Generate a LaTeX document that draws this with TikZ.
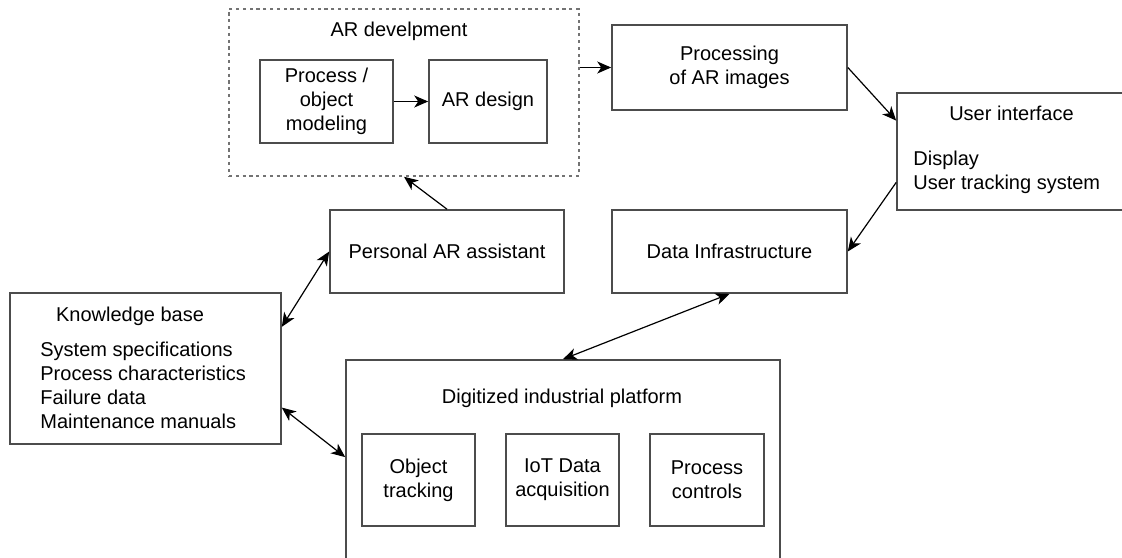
\documentclass[tikz,border=0pt]{standalone}
\usepackage{fontspec}
\setmainfont{Liberation Sans}
\usepackage{tikz}
\usetikzlibrary{arrows.meta}

\begin{document}
\begin{tikzpicture}[x=0.5pt, y=-0.5pt, >={Stealth[length=7pt, width=6pt, inset=2pt]},
    blk/.style={draw=black!70, line width=0.8pt, rectangle, inner sep=0pt, align=center, font=\fontsize{10}{12}\selectfont},
    grp/.style={draw=black!55, line width=0.8pt, dash pattern=on 1.6pt off 1.8pt, rectangle, inner sep=0pt},
    txt/.style={inner sep=0pt, align=left, font=\fontsize{10}{12}\selectfont},
    conn/.style={->, line width=0.6pt},
    biconn/.style={<->, line width=0.6pt}]
\useasboundingbox (0,0) rectangle (1122,557);

\node[grp, minimum width=175pt, minimum height=83.5pt] (dev) at (404,92.5) {};
\node[txt] (devlbl) at (399,31) {AR develpment};
\node[blk, minimum width=66.5pt, minimum height=41.5pt] (procmod) at (326.5,101.5) {Process /\\object\\modeling};
\node[blk, minimum width=59pt, minimum height=41.5pt] (ardesign) at (488,101.5) {AR design};
\node[blk, minimum width=117.5pt, minimum height=42.5pt] (procimg) at (729.5,67.5) {Processing\\of AR images};
\node[blk, minimum width=114.5pt, minimum height=58.5pt] (ui) at (1011.5,151.5) {};
\node[txt] (uititle) at (1011.5,113) {User interface};
\node[txt, anchor=west] (uilist) at (913,172) {Display\\User tracking system};
\node[blk, minimum width=117.5pt, minimum height=41.5pt] (datainf) at (729.5,251.5) {Data Infrastructure};
\node[blk, minimum width=117pt, minimum height=41.5pt] (personal) at (447,251.5) {Personal AR assistant};
\node[blk, minimum width=135.5pt, minimum height=75.5pt] (kb) at (145.5,368.5) {};
\node[txt] (kbtitle) at (130,316) {Knowledge base};
\node[txt, anchor=west] (kblist) at (40,385) {System specifications\\Process characteristics\\Failure data\\Maintenance manuals};
\node[blk, minimum width=217pt, minimum height=120pt] (dip) at (563,480) {};
\node[txt] (diptitle) at (562,398) {Digitized industrial platform};
\node[blk, minimum width=56.5pt, minimum height=46pt] (objtrack) at (418.5,480) {Object\\tracking};
\node[blk, minimum width=56.5pt, minimum height=46pt] (iotdaq) at (562.5,480) {IoT Data\\acquisition};
\node[blk, minimum width=57pt, minimum height=46pt] (procctrl) at (707,480) {Process\\controls};

\draw[conn] (procmod) -- (ardesign);
\draw[conn] (dev.east |- procimg.west) -- (procimg.west);
\draw[conn] (procimg.east) -- (ui.165);
\draw[conn] (ui.195) -- (datainf.east);
\draw[conn] (personal.north) -- (dev.south);
\draw[biconn] (kb.17) -- (personal.west);
\draw[biconn] (kb.-16) -- (dip.174);
\draw[biconn] (datainf.south) -- (dip.north);
\end{tikzpicture}
\end{document}
